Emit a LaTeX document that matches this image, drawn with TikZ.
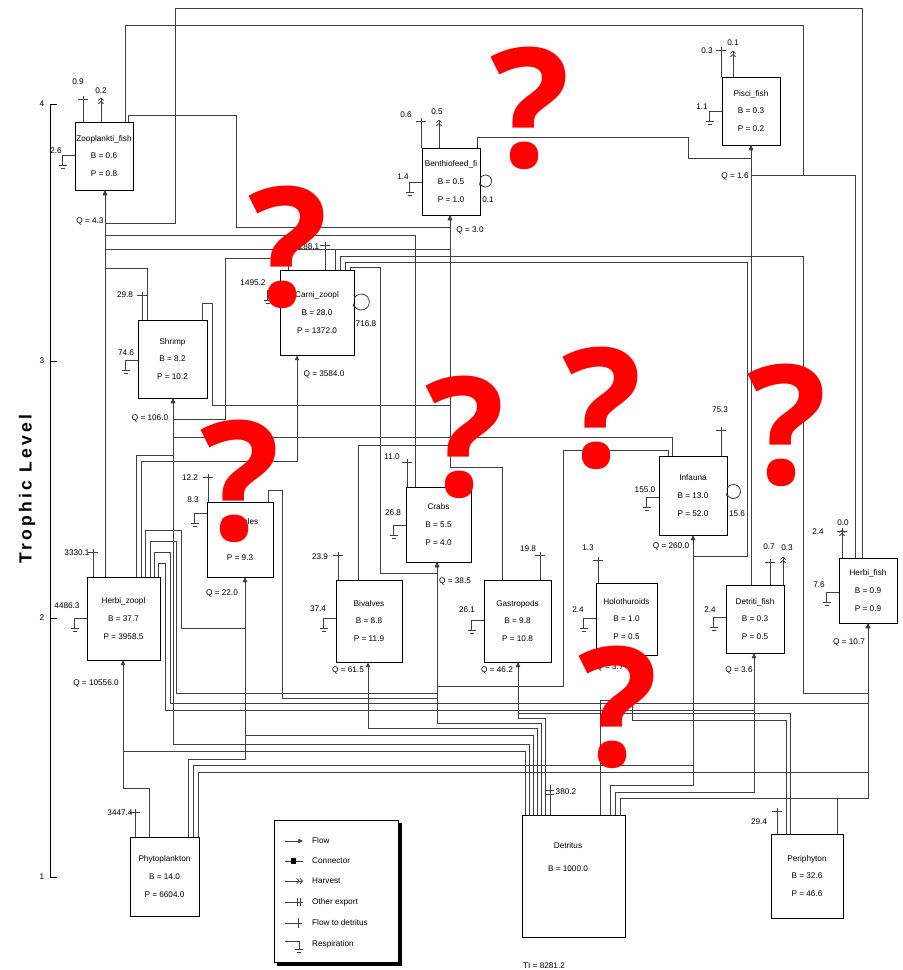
\documentclass[tikz,border=0pt]{standalone}
\usepackage{fontspec}
\setmainfont{Liberation Sans}
\newfontfamily\axisfont[LetterSpace=18]{Liberation Sans}
\newfontfamily\qmfont{Open Sans}
\usetikzlibrary{arrows.meta}

\begin{document}
\begin{tikzpicture}[
  x=0.3mm, y=-0.3mm,
  box/.style     = {draw, line width=0.7pt, fill=white, inner sep=0pt, align=center,
                    font=\fontsize{7}{15}\selectfont},
  boxsize/.style 2 args = {minimum width=#1*0.3mm, minimum height=#2*0.3mm},
  val/.style     = {inner sep=0pt, align=center, font=\fontsize{7}{8}\selectfont},
  con/.style     = {draw=black!75, line width=0.7pt},
  flow/.style    = {con, -{Triangle[length=4pt, width=3.6pt]}},
  harv/.style    = {con, -{Straight Barb[length=2pt, width=4.5pt] Straight Barb[length=2pt, width=4.5pt]}},
  qmark/.style   = {inner sep=0pt, text=red, font=\qmfont\bfseries\fontsize{142}{142}\selectfont},
  pics/todet/.style = {code={
    \draw[con] (0,0) -- (0,-#1);
    \draw[con] (-5,4-#1) -- (5,4-#1);}},
  pics/export/.style = {code={
    \draw[con] (0,0) -- (0,-#1);
    \draw[con] (-4,6-#1) -- (4,6-#1);
    \draw[con] (-4,10-#1) -- (4,10-#1);}},
  pics/catch/.style = {code={\draw[harv] (0,0) -- (0,-#1);}},
  pics/resp/.style = {code={
    \draw[con] (0,0) -- (-12,0) -- (-12,10);
    \draw[con] (-16,10) -- (-8,10);
    \draw[con] (-14,13) -- (-10,13);}}
]
  \useasboundingbox (0,0) rectangle (903,970);

  \draw[line width=0.7pt] (57,104) -- (50,104) -- (50,877) -- (57,877);
  \foreach \lv/\y in {1/877,2/618,3/361,4/104} {
    \draw[line width=0.7pt] (50,\y) -- (57,\y);
    \node[val] (tl\lv) at (42,\y) {\lv};
  }
  \node[rotate=90, font=\axisfont\bfseries\fontsize{15}{16}\selectfont] (axtitle) at (27,489) {Trophic Level};

  \node[box, boxsize={58}{68}]   (zf)  at (104,156)     {Zooplankti\_fish\\B = 0.6\\P = 0.8};
  \node[box, boxsize={58}{67}]   (bf)  at (451,181.5)   {Benthiofeed\_fi\\B = 0.5\\P = 1.0};
  \node[box, boxsize={58}{68}]   (pf)  at (751,111)     {Pisci\_fish\\B = 0.3\\P = 0.2};
  \node[box, boxsize={74}{85}]   (cz)  at (317,312.5)   {Carni\_zoopl\\B = 28.0\\P = 1372.0};
  \node[box, boxsize={69}{78}]   (sh)  at (172.5,359)   {Shrimp\\B = 8.2\\P = 10.2};
  \node[box, boxsize={66}{75}]   (ba)  at (240,539.5)   {Barnacles\\\mbox{}\\P = 9.3};
  \node[box, boxsize={73}{83}]   (hz)  at (123.5,618.5) {Herbi\_zoopl\\B = 37.7\\P = 3958.5};
  \node[box, boxsize={65}{75}]   (cr)  at (438.5,524.5) {Crabs\\B = 5.5\\P = 4.0};
  \node[box, boxsize={66}{82}]   (bi)  at (369,621)     {Bivalves\\B = 8.8\\P = 11.9};
  \node[box, boxsize={67}{82}]   (ga)  at (517.5,621)   {Gastropods\\B = 9.8\\P = 10.8};
  \node[box, boxsize={61}{72}]   (ho)  at (626.5,619)   {Holothuroids\\B = 1.0\\P = 0.5};
  \node[box, boxsize={68}{79}]   (inf) at (693,495.5)   {Infauna\\B = 13.0\\P = 52.0};
  \node[box, boxsize={58}{68}]   (df)  at (755,619)     {Detriti\_fish\\B = 0.3\\P = 0.5};
  \node[box, boxsize={58}{65}]   (hf)  at (868,590.5)   {Herbi\_fish\\B = 0.9\\P = 0.9};
  \node[box, boxsize={69}{79}]   (ph)  at (164.5,876.5) {Phytoplankton\\B = 14.0\\P = 6604.0};
  \node[box, boxsize={103}{122}] (de)  at (573.5,876)   {};
  \node[box, boxsize={72}{84}]   (pe)  at (807,876)     {Periphyton\\B = 32.6\\P = 46.6};
  \node[val] (de-t) at (568,857) {Detritus\\[11pt]B = 1000.0};

  \draw[flow] (hf.north -| 862,0) -- (862,8) -- (175,8) -- (175,223) -- (105,223) -- (zf.south -| 105,0);
  \draw[flow] (zf.north -| 125,0) -- (125,25) -- (803,25) -- (803,175) -- (751,175) -- (pf.south -| 751,0);
  \draw[flow] (hf.north -| 855,0) -- (855,175) -- (751,175) -- (pf.south -| 751,0);
  \draw[flow] (zf.north -| 128,0) -- (128,115) -- (236,115) -- (236,227) -- (450,227) -- (bf.south -| 450,0);
  \draw[flow] (bf.north -| 477,0) -- (477,137) -- (688,137) -- (688,158) -- (751,158) -- (pf.south -| 751,0);
  \draw[flow] (cr.north -| 415,0) -- (415,235) -- (105,235) -- (zf.south -| 105,0);
  \draw[flow] (cz.north -| 335,0) -- (335,249) -- (105,249) -- (zf.south -| 105,0);
  \draw[flow] (cz.north -| 335,0) -- (335,249) -- (450,249) -- (bf.south -| 450,0);
  \draw[flow] (cz.north -| 340,0) -- (340,256) -- (803,256) -- (803,693) -- (868,693) -- (hf.south -| 868,0);
  \draw[flow] (cz.north -| 345,0) -- (345,262) -- (747,262) -- (747,556) -- (693,556) -- (inf.south -| 693,0);
  \draw[flow] (cz.north -| 350,0) -- (350,267) -- (380,267) -- (380,573) -- (437,573) -- (cr.south -| 437,0);
  \draw[flow] (cz.north -| 288,0) -- (288,258) -- (225,258) -- (225,419) -- (173,419) -- (sh.south -| 173,0);
  \draw[flow] (sh.north -| 147,0) -- (147,268) -- (105,268) -- (zf.south -| 105,0);
  \draw[flow] (sh.north -| 202,0) -- (202,303) -- (212,303) -- (212,405) -- (450,405) -- (bf.south -| 450,0);
  \draw[flow] (inf.north -| 672,0) -- (672,437) -- (173,437) -- (sh.south -| 173,0);
  \draw[flow] (inf.north -| 668,0) -- (668,450) -- (563,450) -- (563,686) -- (437,686) -- (cr.south -| 437,0);
  \draw[flow] (bi.north -| 358,0) -- (358,445) -- (450,445) -- (bf.south -| 450,0);
  \draw[flow] (ga.north -| 502,0) -- (502,467) -- (450,467) -- (bf.south -| 450,0);
  \draw[flow] (df.north -| 751,0) -- (pf.south -| 751,0);
  \draw[flow] (ba.north -| 268,0) -- (268,490) -- (282,490) -- (282,698) -- (437,698) -- (cr.south -| 437,0);
  \draw[flow] (hz.north -| 105,0) -- (zf.south -| 105,0);
  \draw[flow] (hz.north -| 136,0) -- (136,455) -- (173,455) -- (sh.south -| 173,0);
  \draw[flow] (hz.north -| 141,0) -- (141,461) -- (297,461) -- (cz.south -| 297,0);
  \draw[flow] (hz.north -| 145,0) -- (145,530) -- (181,530) -- (181,628) -- (245,628) -- (ba.south -| 245,0);
  \draw[flow] (hz.north -| 150,0) -- (150,541) -- (176,541) -- (176,693) -- (437,693) -- (cr.south -| 437,0);
  \draw[flow] (hz.north -| 154,0) -- (154,552) -- (170,552) -- (170,703) -- (868,703) -- (hf.south -| 868,0);
  \draw[flow] (hz.north -| 158,0) -- (158,563) -- (165,563) -- (165,710) -- (754,710) -- (df.south -| 754,0);
  \draw[flow] (ph.north -| 149,0) -- (149,788) -- (123,788) -- (hz.south -| 123,0);
  \draw[flow] (ph.north -| 188,0) -- (188,759) -- (245,759) -- (ba.south -| 245,0);
  \draw[flow] (ph.north -| 193,0) -- (193,765) -- (693,765) -- (inf.south -| 693,0);
  \draw[flow] (ph.north -| 198,0) -- (198,772) -- (868,772) -- (hf.south -| 868,0);
  \draw[flow] (de.north -| 525,0) -- (525,751) -- (123,751) -- (hz.south -| 123,0);
  \draw[flow] (de.north -| 529,0) -- (529,744) -- (173,744) -- (sh.south -| 173,0);
  \draw[flow] (de.north -| 533,0) -- (533,735) -- (245,735) -- (ba.south -| 245,0);
  \draw[flow] (de.north -| 537,0) -- (537,728) -- (368,728) -- (bi.south -| 368,0);
  \draw[flow] (de.north -| 541,0) -- (541,723) -- (437,723) -- (cr.south -| 437,0);
  \draw[flow] (de.north -| 545,0) -- (545,718) -- (518,718) -- (ga.south -| 518,0);
  \draw[flow] (de.north -| 600,0) -- (600,700) -- (632,700) -- (ho.south -| 632,0);
  \draw[flow] (de.north -| 610,0) -- (610,785) -- (693,785) -- (inf.south -| 693,0);
  \draw[flow] (de.north -| 615,0) -- (615,792) -- (754,792) -- (df.south -| 754,0);
  \draw[flow] (de.north -| 620,0) -- (620,798) -- (868,798) -- (hf.south -| 868,0);
  \draw[flow] (pe.north -| 837,0) -- (837,798) -- (868,798) -- (hf.south -| 868,0);
  \draw[flow] (pe.north -| 790,0) -- (790,713) -- (518,713) -- (ga.south -| 518,0);
  \draw[flow] (pe.north -| 786,0) -- (786,720) -- (632,720) -- (ho.south -| 632,0);

  \pic at (zf.north -| 83,0)  {todet=26};  \pic at (zf.north -| 101,0) {catch=24};
  \pic at (bf.north -| 421,0) {todet=30};  \pic at (bf.north -| 439,0) {catch=28};
  \pic at (pf.north -| 721,0) {todet=30};  \pic at (pf.north -| 733,0) {catch=26};
  \pic at (cz.north -| 325,0) {todet=28};
  \pic at (sh.north -| 142,0) {todet=28};
  \pic at (ba.north -| 208,0) {todet=28};
  \pic at (hz.north -| 93,0)  {todet=28};
  \pic at (cr.north -| 407,0) {todet=28};
  \pic at (bi.north -| 338,0) {todet=28};
  \pic at (ga.north -| 540,0) {todet=28};
  \pic at (ho.north -| 598,0) {todet=26};
  \pic at (inf.north -| 721,0) {todet=29};
  \pic at (df.north -| 770,0) {todet=26}; \pic at (df.north -| 783,0) {catch=28};
  \pic at (hf.north -| 842,0) {todet=30}; \pic at (hf.north -| 842,0) {catch=28};
  \pic at (ph.north -| 135,0) {todet=28};
  \pic at (de.north -| 550,0) {export=30};
  \pic at (pe.north -| 777,0) {todet=26};

  \pic at (zf.west |- 0,155)  {resp};
  \pic at (bf.west |- 0,182)  {resp};
  \pic at (pf.west |- 0,111)  {resp};
  \pic at (cz.west |- 0,290)  {resp};
  \pic at (sh.west |- 0,360)  {resp};
  \pic at (ba.west |- 0,513)  {resp};
  \pic at (hz.west |- 0,618)  {resp};
  \pic at (cr.west |- 0,525)  {resp};
  \pic at (bi.west |- 0,618)  {resp};
  \pic at (ga.west |- 0,620)  {resp};
  \pic at (ho.west |- 0,618)  {resp};
  \pic at (inf.west |- 0,497) {resp};
  \pic at (df.west |- 0,617)  {resp};
  \pic at (hf.west |- 0,592)  {resp};

  \draw[con, -{Stealth[length=3pt]}] (bf.east |- 0,178) arc[start angle=-150, end angle=170, radius=6];
  \draw[con, -{Stealth[length=3pt]}] (cz.east |- 0,298) arc[start angle=-150, end angle=170, radius=8];
  \draw[con, -{Stealth[length=3pt]}] (inf.east |- 0,488) arc[start angle=-150, end angle=170, radius=7];

  \node[val] (zf-d) at (78,82)   {0.9};    \node[val] (zf-h) at (101,91)  {0.2};
  \node[val] (zf-r) at (56,151)  {2.6};    \node[val] (zf-q) at (90,221)  {Q = 4.3};
  \node[val] (bf-d) at (406,115) {0.6};    \node[val] (bf-h) at (437,112) {0.5};
  \node[val] (bf-r) at (403,177) {1.4};    \node[val] (bf-l) at (488,200) {0.1};
  \node[val] (bf-q) at (470,230) {Q = 3.0};
  \node[val] (pf-d) at (707,51)  {0.3};    \node[val] (pf-h) at (733,43)  {0.1};
  \node[val] (pf-r) at (702,107) {1.1};    \node[val] (pf-q) at (735,176) {Q = 1.6};
  \node[val] (cz-d) at (309,247) {288.1};  \node[val] (cz-r) at (253,283) {1495.2};
  \node[val] (cz-l) at (366,324) {716.8};  \node[val] (cz-q) at (324,374) {Q = 3584.0};
  \node[val] (sh-d) at (125,295) {29.8};   \node[val] (sh-r) at (126,353) {74.6};
  \node[val] (sh-q) at (150,418) {Q = 106.0};
  \node[val] (ba-d) at (190,478) {12.2};   \node[val] (ba-r) at (193,500) {8.3};
  \node[val] (ba-q) at (222,593) {Q = 22.0};
  \node[val] (hz-d) at (77,553)  {3330.1}; \node[val] (hz-r) at (67,606)  {4486.3};
  \node[val] (hz-q) at (96,683)  {Q = 10556.0};
  \node[val] (cr-d) at (392,457) {11.0};   \node[val] (cr-r) at (393,513) {26.8};
  \node[val] (cr-q) at (455,581) {Q = 38.5};
  \node[val] (bi-d) at (320,557) {23.9};   \node[val] (bi-r) at (318,609) {37.4};
  \node[val] (bi-q) at (348,670) {Q = 61.5};
  \node[val] (ga-d) at (528,549) {19.8};   \node[val] (ga-r) at (467,610) {26.1};
  \node[val] (ga-q) at (497,670) {Q = 46.2};
  \node[val] (ho-d) at (588,548) {1.3};    \node[val] (ho-r) at (578,610) {2.4};
  \node[val] (ho-q) at (610,667) {Q = 3.7};
  \node[val] (in-d) at (720,410) {75.3};   \node[val] (in-r) at (645,490) {155.0};
  \node[val] (in-l) at (737,514) {15.6};   \node[val] (in-q) at (671,546) {Q = 260.0};
  \node[val] (df-d) at (769,547) {0.7};    \node[val] (df-h) at (787,548) {0.3};
  \node[val] (df-r) at (710,610) {2.4};    \node[val] (df-q) at (739,670) {Q = 3.6};
  \node[val] (hf-d) at (818,532) {2.4};    \node[val] (hf-h) at (843,523) {0.0};
  \node[val] (hf-r) at (819,585) {7.6};    \node[val] (hf-q) at (849,642) {Q = 10.7};
  \node[val] (ph-d) at (120,813) {3447.4};
  \node[val] (de-d) at (566,792) {380.2};
  \node[val] (pe-d) at (759,822) {29.4};
  \node[val] (ti)   at (544,966) {TI = 8281.2};

  \fill[black] (277,823) rectangle (402,966);
  \node[draw, fill=white, line width=0.6pt, boxsize={124}{142}] (leg) at (336,891) {};
  \draw[flow] (285,841) -- (303,841);
  \draw[con] (285,861) -- (303,861);
  \fill (291,858) rectangle (296,864);
  \draw[harv] (285,881) -- (303,881);
  \draw[con] (285,902) -- (303,902) (297,898) -- (297,906) (300,898) -- (300,906);
  \draw[con] (285,923) -- (302,923) (298,918) -- (298,928);
  \draw[con] (285,941) -- (299,941) -- (299,949) (295,949) -- (303,949) (297,952) -- (301,952);
  \node[val, anchor=west] (lg1) at (312,841) {Flow};
  \node[val, anchor=west] (lg2) at (312,861) {Connector};
  \node[val, anchor=west] (lg3) at (312,881) {Harvest};
  \node[val, anchor=west] (lg4) at (312,902) {Other export};
  \node[val, anchor=west] (lg5) at (312,923) {Flow to detritus};
  \node[val, anchor=west] (lg6) at (312,944) {Respiration};

  \node[qmark] (q1) at (530,108) {?};
  \node[qmark] (q2) at (288,247) {?};
  \node[qmark] (q3) at (240,481) {?};
  \node[qmark] (q4) at (465,437) {?};
  \node[qmark] (q5) at (602,408) {?};
  \node[qmark] (q6) at (787,425) {?};
  \node[qmark] (q7) at (618,707) {?};
\end{tikzpicture}
\end{document}
